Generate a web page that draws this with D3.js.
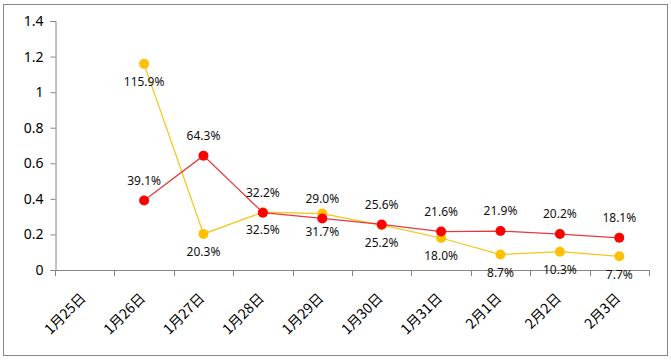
<!DOCTYPE html>
<html>
<head>
<meta charset="utf-8">
<script src="https://cdn.jsdelivr.net/npm/d3@7"></script>
<style>
  body { margin: 0; background: #fff; }
  svg { display: block; }
</style>
</head>
<body>
<div id="chart"></div>
<script>
// categories along the x axis
const dates = ["1月25日", "1月26日", "1月27日", "1月28日", "1月29日", "1月30日", "1月31日", "2月1日", "2月2日", "2月3日"];
// red series (labels above the points)
const redValues = [null, 0.391, 0.643, 0.322, 0.290, 0.256, 0.216, 0.219, 0.202, 0.181];
// yellow series (labels below the points)
const yellowValues = [null, 1.159, 0.203, 0.325, 0.317, 0.252, 0.180, 0.087, 0.103, 0.077];
const yTicks = [0, 0.2, 0.4, 0.6, 0.8, 1, 1.2, 1.4];

const width = 671, height = 361;
const svg = d3.select("#chart").append("svg")
    .attr("width", width)
    .attr("height", height);

// outer chart border
svg.append("rect")
    .attr("x", 3.5).attr("y", 4.5)
    .attr("width", 664).attr("height", 351)
    .attr("fill", "#fff")
    .attr("stroke", "#888")
    .attr("stroke-width", 1);

const x = d3.scaleBand()
    .domain(dates)
    .range([55, 649]);

const y = d3.scaleLinear()
    .domain([0, 1.4])
    .range([270, 21]);

const axisColor = "#868686";

// y axis
const yAxis = svg.append("g")
    .attr("transform", "translate(55.5,0)")
    .call(d3.axisLeft(y).tickValues(yTicks).tickSize(5).tickPadding(7).tickFormat(d => d3.format("")(+d.toFixed(1))));
yAxis.select(".domain").attr("stroke", axisColor);
yAxis.selectAll(".tick line").attr("stroke", axisColor);
yAxis.selectAll(".tick text")
    .attr("fill", "#000")
    .style("font-family", "'Noto Sans', sans-serif")
    .style("font-size", "14px");

// x axis line and tick marks at category boundaries
const xg = svg.append("g");
xg.append("line")
    .attr("x1", x.range()[0]).attr("x2", x.range()[1])
    .attr("y1", y(0) + 0.5).attr("y2", y(0) + 0.5)
    .attr("stroke", axisColor);
const bounds = dates.map(d => x(d)).concat([x.range()[1]]);
xg.selectAll("line.xtick")
    .data(bounds)
    .enter().append("line")
    .attr("class", "xtick")
    .attr("x1", d => Math.round(d) + 0.5).attr("x2", d => Math.round(d) + 0.5)
    .attr("y1", y(0)).attr("y2", y(0) + 6)
    .attr("stroke", axisColor);
xg.selectAll("text")
    .data(dates)
    .enter().append("text")
    .attr("transform", d => `translate(${x(d) + x.bandwidth() / 2 + 2},299) rotate(-45)`)
    .attr("text-anchor", "end")
    .style("font-family", "'Noto Sans CJK SC', sans-serif")
    .style("font-size", "14px")
    .attr("fill", "#000")
    .text(d => d);

const cx = d => x(d) + x.bandwidth() / 2;

function drawSeries(values, lineColor, dotColor, labelDy) {
    const pts = dates.map((d, i) => ({ d, v: values[i] })).filter(p => p.v != null);
    const line = d3.line()
        .x(p => cx(p.d))
        .y(p => y(p.v));
    svg.append("path")
        .datum(pts)
        .attr("d", line)
        .attr("fill", "none")
        .attr("stroke", lineColor)
        .attr("stroke-width", 1.25);
    svg.append("g").selectAll("circle")
        .data(pts)
        .enter().append("circle")
        .attr("cx", p => cx(p.d))
        .attr("cy", p => y(p.v))
        .attr("r", 5)
        .attr("fill", dotColor);
    return pts;
}

function drawLabels(pts, labelDy) {
    svg.append("g").selectAll("text")
        .data(pts)
        .enter().append("text")
        .attr("x", p => cx(p.d))
        .attr("y", p => y(p.v) + labelDy)
        .attr("text-anchor", "middle")
        .attr("dominant-baseline", "middle")
        .style("font-family", "'Noto Sans', sans-serif")
        .style("font-size", "12px")
        .attr("fill", "#111")
        .text(p => d3.format(".1%")(p.v));
}

const yellowPts = drawSeries(yellowValues, "#F5C518", "#FFC000");
const redPts = drawSeries(redValues, "#E8383D", "#FF0000");
drawLabels(redPts, -19);
drawLabels(yellowPts, 19);
</script>
</body>
</html>
